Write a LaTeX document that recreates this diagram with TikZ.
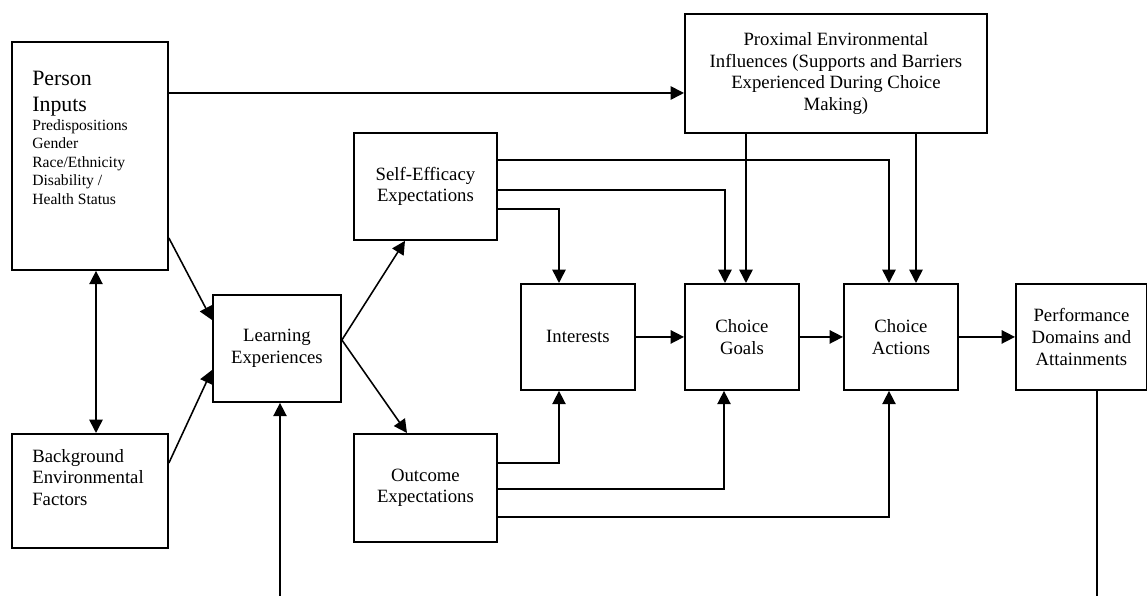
\documentclass[tikz,border=0pt]{standalone}
\usepackage{fontspec}
\setmainfont{Liberation Serif}
\usetikzlibrary{arrows.meta,positioning,calc}

\begin{document}
\begin{tikzpicture}[x=0.64pt, y=-0.64pt,
    box/.style={draw, line width=1.2pt, anchor=north west, inner sep=0pt, align=center, font=\fontsize{12}{13.8}\selectfont},
    lefttext/.style={anchor=north west, inner sep=0pt, align=left},
    arr/.style={line width=1pt, -{Triangle[length=8.5pt,width=8.5pt]}},
    dbl/.style={line width=1pt, {Triangle[length=8.5pt,width=8.5pt]}-{Triangle[length=8.5pt,width=8.5pt]}},
    plain/.style={line width=1pt}]

    \useasboundingbox (0,0) rectangle (1147,596);

    \node [box, minimum width=99.84pt, minimum height=145.92pt] (person) at (11,41) {};
    \node [lefttext, font=\fontsize{14}{16.6}\selectfont] (persontitle) at (32,70.5) {Person\\Inputs};
    \node [lefttext, font=\fontsize{10}{11.84}\selectfont] (personlist) at (32,119) {Predispositions\\Gender\\Race/Ethnicity\\Disability /\\Health Status};
    \node [box, minimum width=99.84pt, minimum height=72.96pt] (background) at (11,433) {};
    \node [lefttext, font=\fontsize{12}{13.8}\selectfont] (backgroundtext) at (32,449) {Background\\Environmental\\Factors};
    \node [box, minimum width=81.92pt, minimum height=68.48pt] (learning) at (212,294) {Learning\\Experiences};
    \node [box, minimum width=91.52pt, minimum height=68.48pt] (selfeff) at (353,132) {Self-Efficacy\\Expectations};
    \node [box, minimum width=91.52pt, minimum height=69.12pt] (outcome) at (353,433) {Outcome\\Expectations};
    \node [box, minimum width=72.96pt, minimum height=67.84pt] (interests) at (520,283) {Interests};
    \node [box, minimum width=72.96pt, minimum height=67.84pt] (goals) at (684,283) {Choice\\Goals};
    \node [box, minimum width=72.96pt, minimum height=67.84pt] (actions) at (843,283) {Choice\\Actions};
    \node [box, minimum width=83.84pt, minimum height=67.84pt] (perf) at (1015,283) {Performance\\Domains and\\Attainments};
    \node [box, minimum width=193.28pt, minimum height=76.16pt] (prox) at (684,13) {Proximal Environmental\\Influences (Supports and Barriers\\Experienced During Choice\\Making)};

    \coordinate (lbot) at (280,596);
    \coordinate (pbot) at (1097,596);

    % left side
    \draw [arr] (person.east |- 0,93) -- (prox.west |- 0,93);
    \draw [dbl] (person.south -| 96,0) -- (background.north -| 96,0);
    \draw [arr] (person.east |- 0,238) -- (learning.west |- 0,320);
    \draw [arr] (background.east |- 0,463) -- (learning.west |- 0,370);
    \draw [arr] (lbot) -- (lbot |- learning.south);
    \draw [arr] (learning.east |- 0,340) -- (selfeff.south -| 405,0);
    \draw [arr] (learning.east |- 0,340) -- (outcome.north -| 407,0);

    % expectations to the choice boxes
    \draw [arr] (selfeff.east |- 0,160) -| (actions.north -| 889,0);
    \draw [arr] (selfeff.east |- 0,190) -| (goals.north -| 725,0);
    \draw [arr] (selfeff.east |- 0,209) -| (interests.north -| 559,0);
    \draw [arr] (outcome.east |- 0,463) -| (interests.south -| 559,0);
    \draw [arr] (outcome.east |- 0,489) -| (goals.south -| 724,0);
    \draw [arr] (outcome.east |- 0,517) -| (actions.south -| 889,0);
    \draw [arr] (prox.south -| 746,0) -- (goals.north -| 746,0);
    \draw [arr] (prox.south -| 916,0) -- (actions.north -| 916,0);

    \draw [arr] (interests.east) -- (goals.west);
    \draw [arr] (goals.east) -- (actions.west);
    \draw [arr] (actions.east) -- (perf.west);
    \draw [plain] (perf.south -| pbot) -- (pbot);
\end{tikzpicture}
\end{document}
